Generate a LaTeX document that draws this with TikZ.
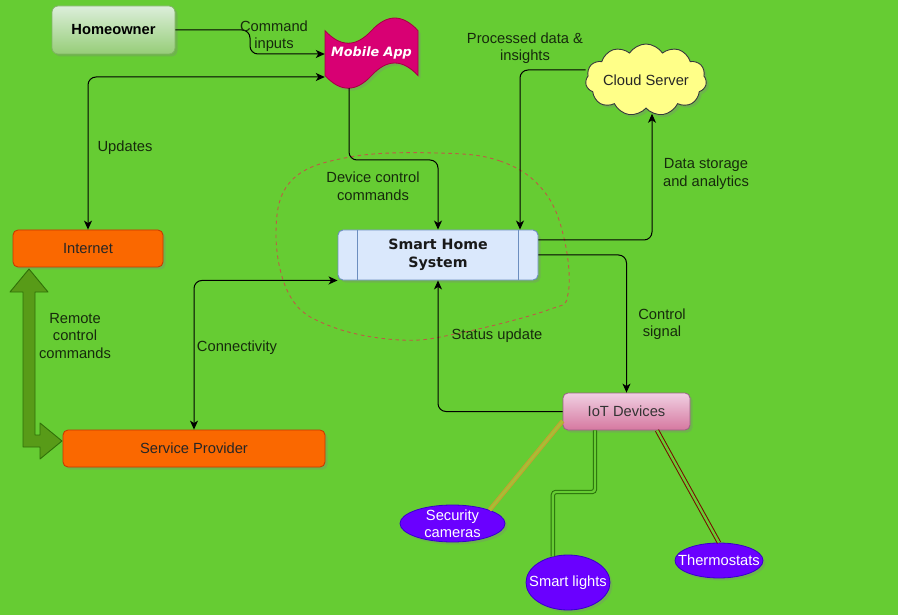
\documentclass[tikz,border=0pt]{standalone}
\usepackage{fontspec}
\setmainfont{Liberation Sans}
\newfontfamily\dvs{DejaVu Sans}
\usetikzlibrary{arrows.meta,shapes.geometric,shapes.symbols,shadows,calc}
\definecolor{bg}{RGB}{102,204,51}
\definecolor{lblc}{RGB}{22,42,12}
\definecolor{orfill}{RGB}{250,104,0}
\definecolor{orline}{RGB}{199,53,0}
\definecolor{purfill}{RGB}{106,0,255}
\definecolor{purline}{RGB}{55,0,204}
\definecolor{pinktop}{RGB}{240,208,226}
\definecolor{pinkbot}{RGB}{214,120,160}
\definecolor{pinkline}{RGB}{153,97,133}
\definecolor{greentop}{RGB}{220,238,218}
\definecolor{greenbot}{RGB}{150,205,120}
\definecolor{greenline}{RGB}{130,179,102}
\definecolor{bluefill}{RGB}{218,232,252}
\definecolor{blueline}{RGB}{108,142,191}
\definecolor{cloudfill}{RGB}{255,255,136}
\definecolor{cloudline}{RGB}{54,57,61}
\definecolor{appfill}{RGB}{216,0,115}
\definecolor{appline}{RGB}{165,0,64}
\definecolor{blobc}{RGB}{190,90,70}
\definecolor{flexfill}{RGB}{88,155,24}
\definecolor{flexline}{RGB}{48,112,8}
\definecolor{goldout}{RGB}{196,160,48}
\definecolor{goldin}{RGB}{168,190,52}
\definecolor{lightsc}{RGB}{40,110,10}
\definecolor{thermoc}{RGB}{120,10,0}
\begin{document}
\begin{tikzpicture}[x=1pt,y=-1pt,
  font=\fontsize{14.7}{17.5}\selectfont,
  sh/.style={drop shadow={opacity=0.3,shadow xshift=2.5pt,shadow yshift=-2.5pt}},
  arr/.style={draw=black,line width=1pt,rounded corners=8pt,-{Stealth[length=9pt,width=8pt,inset=2.5pt]}},
  biarr/.style={draw=black,line width=1pt,rounded corners=8pt,{Stealth[length=9pt,width=8pt,inset=2.5pt]}-{Stealth[length=9pt,width=8pt,inset=2.5pt]}},
  lbl/.style={text=lblc,align=center,inner sep=0pt},
  orbox/.style={sh,rectangle,rounded corners=5pt,fill=orfill,draw=orline,line width=0.8pt,text=black!85,inner sep=0pt},
  ellbox/.style={sh,ellipse,fill=purfill,draw=purline,line width=0.8pt,inner sep=0pt},
  elltext/.style={text=white,align=center,font=\fontsize{14.7}{17}\selectfont},
  link/.style={line width=1pt,double distance=2.4pt},
  blob/.style={draw=blobc,line width=0.9pt,dash pattern=on 3.5pt off 3.5pt}
]
\fill[bg] (0,0) rectangle (898,615);
\useasboundingbox (0,0) rectangle (898,615);

% dashed boundary around the system
\draw[blob] plot[smooth cycle,tension=0.65] coordinates {(437,153) (500,161) (543,190) (564,238) (568,294) (548,310) (460,333) (400,340) (330,326) (290,296) (276,232) (292,180) (350,157)};

% Homeowner
\node[sh,rectangle,rounded corners=6pt,top color=greentop,bottom color=greenbot,draw=greenline,line width=0.8pt,
  minimum width=123pt,minimum height=48pt,inner sep=0pt,font=\fontsize{14.7}{17.5}\selectfont\bfseries] (home) at (113.5,30) {Homeowner};

% Mobile App (tape shape)
\begin{scope}[shift={(371.5,53)}]
\path[sh,fill=appfill,draw=appline,line width=0.8pt]
  (-46.5,-22.4) .. controls (-31,-5.6) and (-15.5,-5.6) .. (0,-22.4)
  .. controls (15.5,-39.2) and (31,-39.2) .. (46.5,-22.4)
  -- (46.5,22.6)
  .. controls (31,5.8) and (15.5,5.8) .. (0,22.6)
  .. controls (-15.5,39.4) and (-31,39.4) .. (-46.5,22.6) -- cycle;
\end{scope}
\node[minimum width=93pt,minimum height=70pt,inner sep=0pt,text=white,
  font=\dvs\fontsize{12.8}{14}\selectfont\bfseries\itshape] (app) at (371.5,53) {Mobile\,\,App};

% Cloud Server
\node[sh,cloud,cloud puffs=11,cloud puff arc=115,cloud ignores aspect,fill=cloudfill,draw=cloudline,line width=0.9pt,
  minimum width=121pt,minimum height=72pt,inner sep=0pt,
  label={[text=black!85]center:Cloud Server}] (cloud) at (646,80) {};

% Smart Home System
\node[sh,rectangle,rounded corners=5pt,fill=bluefill,draw=blueline,line width=0.9pt,
  minimum width=200pt,minimum height=50pt,inner sep=0pt,align=center,
  font=\dvs\fontsize{14.2}{18.5}\selectfont\bfseries,text=black!90] (shs) at (438,255) {Smart Home\\System};
\draw[blueline,line width=0.9pt] ([xshift=20pt]shs.north west) -- ([xshift=20pt]shs.south west);
\draw[blueline,line width=0.9pt] ([xshift=-20pt]shs.north east) -- ([xshift=-20pt]shs.south east);

% Internet, Service Provider
\node[orbox,minimum width=150pt,minimum height=37pt] (inet) at (88,248.5) {Internet};
\node[orbox,minimum width=262pt,minimum height=37pt] (sp) at (194,448.5) {Service Provider};

% IoT Devices
\node[sh,rectangle,rounded corners=5pt,top color=pinktop,bottom color=pinkbot,draw=pinkline,line width=0.8pt,
  minimum width=127pt,minimum height=37pt,inner sep=0pt,text=black!80] (iot) at (626.5,411.5) {IoT Devices};

% Devices
\node[ellbox,minimum width=105pt,minimum height=37pt,label={[elltext]center:Security\\cameras}] (cam) at (452.5,523.5) {};
\node[ellbox,minimum width=84pt,minimum height=55pt,label={[elltext]center:Smart lights}] (lights) at (568,582.5) {};
\node[ellbox,minimum width=88pt,minimum height=35pt,label={[elltext]center:Thermostats}] (thermo) at (719,560.5) {};

% Remote control commands (double flex arrow)
\path[fill=flexfill,draw=flexline,line width=0.9pt,line join=round]
  (29,269) -- (48,292) -- (35,292) -- (35,435) -- (40,435) -- (40,423) -- (62,441)
  -- (40,459) -- (40,447) -- (23,447) -- (23,292) -- (10,292) -- cycle;

% Connectors
\draw[arr] (home.east) -- (250,30) -- (250,54) -- (app.west |- 0,54);
\draw[biarr] (inet.north) |- (app.west |- 0,77);
\draw[arr] (app.south -| 349,0) |- (438,160) -- (shs.north);
\draw[arr] (cloud.west |- 0,70) -| (shs.north -| 520,0);
\draw[arr] (shs.east |- 0,240) -| ([yshift=-5pt]cloud.south -| 652,0);
\draw[arr] (shs.east |- 0,255) -| (iot.north);
\draw[arr] (iot.west) -| (shs.south);
\draw[biarr] (sp.north) |- (shs.south west);

% device links
\draw[link,draw=goldout,double=goldin] (iot.west |- 0,421) -- (cam.20);
\draw[link,draw=lightsc,double=bg,rounded corners=3pt] (iot.south -| 595,0) -- (595,492) -| (lights.120);
\draw[link,draw=thermoc,double=bg] (iot.south -| 657,0) -- (thermo.north);

% Labels
\node[lbl] (l1) at (274,36) {Command\\inputs};
\node[lbl] (l2) at (125,148) {Updates};
\node[lbl] (l3) at (525,48) {Processed data \&\\insights};
\node[lbl] (l4) at (706,174) {Data storage\\and analytics};
\node[lbl] (l5) at (373,186) {Device control\\commands};
\node[lbl] (l6) at (662,324) {Control\\signal};
\node[lbl] (l7) at (497,336) {Status update};
\node[lbl] (l8) at (237,348) {Connectivity};
\node[lbl] (l9) at (75,336) {Remote\\control\\commands};
\end{tikzpicture}
\end{document}
